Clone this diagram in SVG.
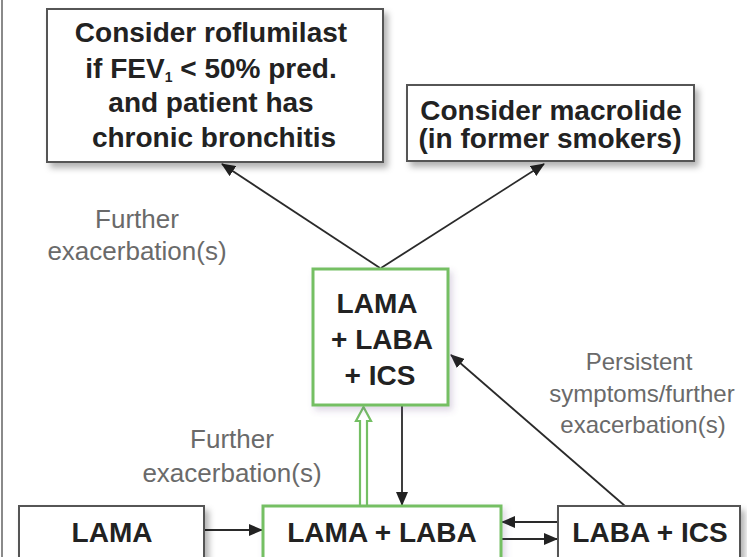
<svg xmlns="http://www.w3.org/2000/svg" width="747" height="557" viewBox="0 0 747 557">
  <defs>
    <filter id="shadow" x="-10%" y="-10%" width="125%" height="130%">
      <feDropShadow dx="4" dy="5" stdDeviation="3" flood-color="#000" flood-opacity="0.3"/>
    </filter>
    <filter id="glow" x="-10%" y="-10%" width="125%" height="130%">
      <feDropShadow dx="3" dy="4" stdDeviation="3" flood-color="#6a4a8a" flood-opacity="0.22"/>
    </filter>
    <marker id="arrow" markerUnits="userSpaceOnUse" markerWidth="14" markerHeight="12" refX="13" refY="6" orient="auto">
      <path d="M0,0 L14,6 L0,12 z" fill="#222"/>
    </marker>
  </defs>
  <style>
    .box { fill: #fff; stroke: #555; stroke-width: 2; }
    .gbox { fill: #fff; stroke: #74bf64; stroke-width: 3; }
    .btxt { font-family: "Liberation Sans", Arial, sans-serif; font-weight: bold; fill: #222; text-anchor: middle; font-size: 28px; }
    .lbl { font-family: "Liberation Sans", Arial, sans-serif; fill: #6a6a6a; text-anchor: middle; }
    .conn { stroke: #2a2a2a; stroke-width: 1.8; fill: none; marker-end: url(#arrow); }
  </style>

  <rect width="747" height="557" fill="#fff"/>
  <line x1="2" y1="0" x2="2" y2="557" stroke="#8a8a8a" stroke-width="2"/>

  <!-- connectors -->
  <g id="connectors">
    <line class="conn" x1="380" y1="268" x2="222" y2="164"/>
    <line class="conn" x1="381" y1="268" x2="544" y2="164"/>
    <line class="conn" x1="402" y1="406" x2="402" y2="505"/>
    <line class="conn" x1="205" y1="530" x2="262" y2="530"/>
    <line class="conn" x1="557" y1="522" x2="502" y2="522"/>
    <line class="conn" x1="502" y1="539" x2="557" y2="539"/>
    <line class="conn" x1="625" y1="506" x2="451" y2="355"/>
    <!-- hollow green arrow up to the triple-therapy box -->
    <path d="M360,505 L360,421 L356,421 L363.5,407 L371,421 L367,421 L367,505" fill="#fff" stroke="#74bf64" stroke-width="2.2" stroke-linejoin="miter"/>
  </g>

  <!-- labels -->
  <g id="labels">
    <text class="lbl" font-size="26" x="137" y="228">Further</text>
    <text class="lbl" font-size="26" x="137" y="260">exacerbation(s)</text>
    <text class="lbl" font-size="26" x="232" y="448">Further</text>
    <text class="lbl" font-size="26" x="232" y="482">exacerbation(s)</text>
    <text class="lbl" font-size="24" x="639" y="370">Persistent</text>
    <text class="lbl" font-size="24" x="642" y="402">symptoms/further</text>
    <text class="lbl" font-size="24" x="643" y="433">exacerbation(s)</text>
  </g>

  <g id="roflumilast" filter="url(#shadow)">
    <rect class="box" x="47" y="9" width="336" height="153"/>
  </g>
  <g id="roflumilast-text">
    <text class="btxt" x="211" y="42">Consider roflumilast</text>
    <text class="btxt" x="211" y="78">if FEV<tspan font-size="14" dy="4">1</tspan><tspan dy="-4"> &lt; 50% pred.</tspan></text>
    <text class="btxt" x="211" y="112">and patient has</text>
    <text class="btxt" x="214" y="147">chronic bronchitis</text>
  </g>

  <g id="macrolide">
    <rect class="box" x="407" y="85" width="287" height="76" filter="url(#shadow)"/>
    <text class="btxt" x="551" y="120">Consider macrolide</text>
    <text class="btxt" x="550" y="148">(in former smokers)</text>
  </g>

  <g id="lama-laba-ics">
    <rect class="gbox" x="313" y="269" width="135" height="136" filter="url(#glow)"/>
    <text class="btxt" x="377" y="313">LAMA</text>
    <text class="btxt" x="382" y="349">+ LABA</text>
    <text class="btxt" x="380" y="385">+ ICS</text>
  </g>

  <g id="lama">
    <rect class="box" x="19" y="506" width="185" height="60" filter="url(#shadow)"/>
    <text class="btxt" x="112" y="542">LAMA</text>
  </g>

  <g id="lama-laba">
    <rect class="gbox" x="263" y="506" width="238" height="60" filter="url(#glow)"/>
    <text class="btxt" x="382" y="542">LAMA + LABA</text>
  </g>

  <g id="laba-ics">
    <rect class="box" x="558" y="506" width="182" height="60" filter="url(#shadow)"/>
    <text class="btxt" x="650" y="542">LABA + ICS</text>
  </g>
</svg>
